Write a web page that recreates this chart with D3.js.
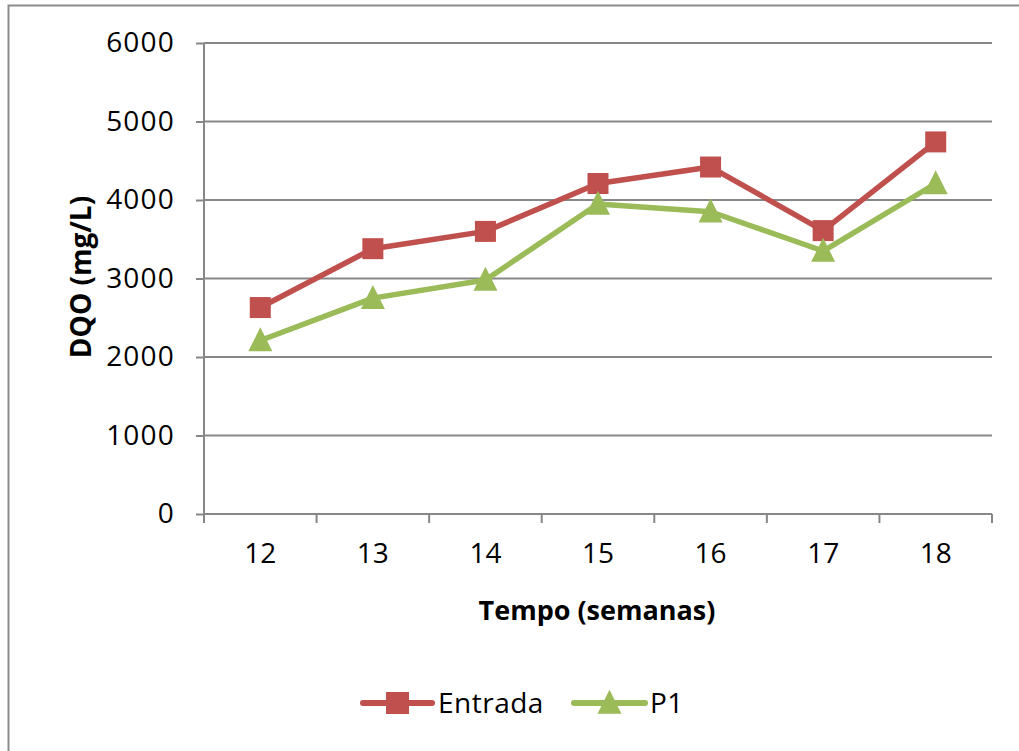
<!DOCTYPE html>
<html><head><meta charset="utf-8">
<script src="https://cdn.jsdelivr.net/npm/d3@7"></script>
<style>body{margin:0;background:#fff}svg{display:block}text{font-family:"Open Sans",sans-serif;fill:#000}</style>
</head><body><svg id="c" width="1019" height="751"></svg>
<script>
const categories = ["12","13","14","15","16","17","18"];
const entrada = [2630, 3380, 3600, 4210, 4420, 3610, 4740];
const p1 = [2210, 2750, 2980, 3950, 3850, 3350, 4210];
const yTicks = [0,1000,2000,3000,4000,5000,6000];
const seriesNames = ["Entrada","P1"];
const colors = ["#C0504D","#9BBB59"];

const svg = d3.select("#c");
svg.append("rect").attr("x",8.5).attr("y",5.5).attr("width",1040).attr("height",780)
  .attr("fill","#fff").attr("stroke","#8c8c8c").attr("stroke-width",2);

const L=204,R=992,T=43,B=514;
const x = d3.scaleBand().domain(categories).range([L,R]);
const y = d3.scaleLinear().domain([0,6000]).range([B,T]);
const grey="#878787";

// gridlines
svg.append("g").selectAll("line").data(yTicks).join("line")
  .attr("x1",L).attr("x2",R).attr("y1",d=>y(d)).attr("y2",d=>y(d))
  .attr("stroke",grey).attr("stroke-width",2);

// y axis
const ya = svg.append("g").attr("transform",`translate(${L},0)`)
  .call(d3.axisLeft(y).tickValues(yTicks).tickSize(8).tickPadding(21).tickFormat(d3.format("d")));
ya.select(".domain").attr("stroke",grey).attr("stroke-width",2).attr("d",`M0,${T}V${B}`);
ya.selectAll(".tick line").attr("stroke",grey).attr("stroke-width",2);
ya.selectAll("text").attr("font-size",28).attr("letter-spacing","1.2px").attr("font-family","'Open Sans',sans-serif").attr("fill","#000");

// x axis
const xa = svg.append("g").attr("transform",`translate(0,${B})`)
  .call(d3.axisBottom(x).tickSize(0).tickPadding(29));
xa.select(".domain").attr("stroke",grey).attr("stroke-width",2).attr("d",`M${L},0H${R}`);
xa.selectAll("text").attr("font-size",28).attr("font-family","'Open Sans',sans-serif").attr("fill","#000");
const bounds = categories.map(c=>x(c)).concat([R]);
svg.append("g").selectAll("line").data(bounds).join("line")
  .attr("x1",d=>d).attr("x2",d=>d).attr("y1",B).attr("y2",B+9)
  .attr("stroke",grey).attr("stroke-width",2);

const cx = c => x(c)+x.bandwidth()/2;
const line = d3.line().x((d,i)=>cx(categories[i])).y(d=>y(d));
const tri = (s)=>`M0,${-s*0.55}L${s*0.5},${s*0.45}L${-s*0.5},${s*0.45}Z`;

// series
svg.append("path").datum(entrada).attr("d",line).attr("fill","none")
  .attr("stroke",colors[0]).attr("stroke-width",5.5).attr("stroke-linejoin","round");
svg.append("path").datum(p1).attr("d",line).attr("fill","none")
  .attr("stroke",colors[1]).attr("stroke-width",5.5).attr("stroke-linejoin","round");
svg.append("g").selectAll("rect").data(entrada).join("rect")
  .attr("x",(d,i)=>cx(categories[i])-10.5).attr("y",d=>y(d)-10.5)
  .attr("width",21).attr("height",21).attr("fill",colors[0]);
svg.append("g").selectAll("path").data(p1).join("path")
  .attr("transform",(d,i)=>`translate(${cx(categories[i])},${y(d)})`)
  .attr("d",tri(24)).attr("fill",colors[1]);

// titles
svg.append("text").attr("x",597).attr("y",620).attr("text-anchor","middle")
  .attr("font-size",27).attr("font-weight","bold").text("Tempo (semanas)");
svg.append("text").attr("transform","translate(91,277) rotate(-90)").attr("text-anchor","middle")
  .attr("font-size",28).attr("font-weight","bold").text("DQO (mg/L)");

// legend
const leg = [{x1:363,x2:432,tx:438},{x1:574,x2:645,tx:650}];
leg.forEach((l,i)=>{
  const g=svg.append("g");
  g.append("line").attr("x1",l.x1).attr("x2",l.x2).attr("y1",703).attr("y2",703)
    .attr("stroke",colors[i]).attr("stroke-width",6).attr("stroke-linecap","round");
  const m=(l.x1+l.x2)/2;
  if(i===0) g.append("rect").attr("x",m-11.5).attr("y",703-11).attr("width",23).attr("height",22).attr("fill",colors[0]);
  else g.append("path").attr("transform",`translate(${m},${703})`).attr("d",tri(24)).attr("fill",colors[1]);
  g.append("text").attr("x",l.tx).attr("y",713).attr("font-size",28).attr("letter-spacing","0.5px").text(seriesNames[i]);
});
</script></body></html>
